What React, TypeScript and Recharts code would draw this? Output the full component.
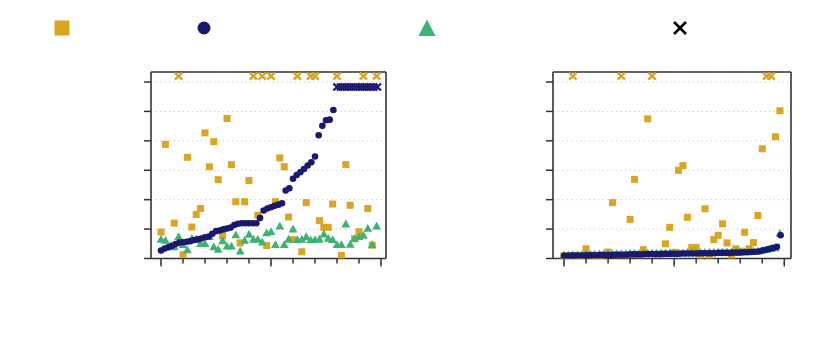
import { ScatterChart, Scatter, XAxis, YAxis, CartesianGrid, ReferenceLine } from "recharts"

const ORANGE = "#DAA520"
const BLUE = "#191970"
const GREEN = "#3CB371"
const AXIS = "#333"

const X_TICKS = [0, 10, 20, 30, 40, 50, 60, 70, 80, 90, 100]
const Y_TICKS = [0, 1, 2, 3, 4, 5, 6]
const Y_MAX = 6.34

// timeouts (null) are drawn as crosses at these levels
const ORANGE_TIMEOUT = 6.2
const BLUE_TIMEOUT = 5.83

// left panel
const leftOrange = [
  0.9, 3.88, 0.42, 1.2, null, 0.13, 3.44, 1.07, 1.5, 1.7,
  4.27, 3.12, 3.97, 2.68, 0.77, 4.76, 3.19, 1.93, 0.53, 1.93,
  2.65, null, 1.47, null, 0.44, null, 1.93, 3.42, 3.12, 1.41,
  0.64, null, 0.23, 1.9, null, null, 1.29, 1.06, 1.06, 1.85,
  null, 0.1, 3.19, 1.81, 0.67, 0.91, null, 1.7, 0.45, null,
]
const leftGreen = [
  0.64, 0.6, 0.38, 0.38, 0.73, 0.46, 0.28, 0.67, 0.64, 0.49,
  0.49, 0.73, 0.38, 0.3, 0.59, 0.41, 0.41, 0.79, 0.24, 0.6,
  0.81, 0.64, 0.64, 0.54, 0.86, 0.9, 0.46, 1.09, 0.46, 0.64,
  0.99, 0.63, 0.64, 0.73, 0.62, 0.63, 0.64, 0.82, 0.67, 0.63,
  0.46, 0.46, 1.16, 0.47, 0.66, 0.73, 0.77, 1.01, 0.46, 1.09,
]
const leftBlue = [
  0.27, 0.34, 0.38, 0.43, 0.49, 0.54, 0.55, 0.57, 0.59, 0.63,
  0.65, 0.68, 0.72, 0.75, 0.84, 0.93, 0.95, 0.99, 1.02, 1.05,
  1.14, 1.18, 1.2, 1.2, 1.2, 1.2, 1.2, 1.38, 1.63, 1.7,
  1.74, 1.79, 1.83, 1.88, 2.31, 2.39, 2.71, 2.84, 2.93, 3.04,
  3.16, 3.27, 3.47, 4.19, 4.51, 4.7, 4.72, 5.05, null, null,
  null, null, null, null, null, null, null, null, null, null,
]

// right panel
const rightOrange = [
  0.1, 0.1, null, 0.1, 0.1, 0.33, 0.12, 0.1, 0.1, 0.12,
  0.22, 1.9, 0.12, null, 0.12, 1.33, 2.69, 0.12, 0.3, 4.75,
  null, 0.13, 0.13, 0.5, 1.06, 0.21, 3.0, 3.16, 1.4, 0.37,
  0.37, 0.07, 1.69, 0.07, 0.64, 0.79, 1.18, 0.53, 0.07, 0.33,
  0.25, 0.89, 0.33, 0.54, 1.46, 3.73, null, null, 4.14, 5.02,
]
const rightGreen = [
  0.11, 0.11, 0.12, 0.12, 0.12, 0.13, 0.13, 0.13, 0.14, 0.14,
  0.14, 0.15, 0.15, 0.15, 0.15, 0.16, 0.16, 0.16, 0.16, 0.17,
  0.17, 0.17, 0.17, 0.18, 0.18, 0.18, 0.18, 0.18, 0.19, 0.19,
  0.19, 0.19, 0.19, 0.2, 0.2, 0.2, 0.2, 0.21, 0.21, 0.21,
  0.21, 0.22, 0.22, 0.23, 0.24, 0.26, 0.29, 0.32, 0.35, 0.84,
]
const rightBlue = [
  0.09, 0.09, 0.1, 0.1, 0.1, 0.1, 0.11, 0.11, 0.11, 0.11,
  0.12, 0.12, 0.12, 0.12, 0.13, 0.13, 0.13, 0.13, 0.14, 0.14,
  0.14, 0.14, 0.15, 0.15, 0.15, 0.15, 0.15, 0.16, 0.16, 0.16,
  0.16, 0.16, 0.17, 0.17, 0.17, 0.17, 0.17, 0.18, 0.18, 0.18,
  0.18, 0.18, 0.19, 0.19, 0.19, 0.19, 0.2, 0.2, 0.2, 0.21,
  0.21, 0.22, 0.23, 0.24, 0.27, 0.3, 0.33, 0.36, 0.4, 0.79,
]

type Val = number | null

// x = position of the instance as a percentage of its set
const solved = (vals: Val[]) =>
  vals.flatMap((v, i) => (v == null ? [] : [{ x: (i * 100) / vals.length, y: v }]))
const timeouts = (vals: Val[], level: number) =>
  vals.flatMap((v, i) => (v == null ? [{ x: (i * 100) / vals.length, y: level }] : []))

const Square = (p: any) =>
  p.cx == null ? null : <rect x={p.cx - 3.5} y={p.cy - 3.5} width={7} height={7} fill={ORANGE} />
const Dot = (p: any) => (p.cx == null ? null : <circle cx={p.cx} cy={p.cy} r={3.3} fill={BLUE} />)
const Tri = (p: any) =>
  p.cx == null ? null : (
    <polygon
      points={`${p.cx},${p.cy - 4.8} ${p.cx + 4.4},${p.cy + 3} ${p.cx - 4.4},${p.cy + 3}`}
      fill={GREEN}
    />
  )
const cross = (color: string) => (p: any) =>
  p.cx == null ? null : (
    <path
      d={`M${p.cx - 3.7},${p.cy - 3.5}L${p.cx + 3.7},${p.cy + 3.5}M${p.cx + 3.7},${p.cy - 3.5}L${p.cx - 3.7},${p.cy + 3.5}`}
      stroke={color}
      strokeWidth={2.4}
      fill="none"
    />
  )

// no tick labels; the 0 / 50 / 100 ticks are a bit longer
const XTick = (p: any) =>
  p.payload && p.payload.value % 50 === 0 ? (
    <line x1={p.x} x2={p.x} y1={p.y - 1} y2={p.y + 3} stroke={AXIS} strokeWidth={1.5} />
  ) : (
    <g />
  )
const NoTick = () => <g />

function Panel({
  width,
  left,
  right,
  xDomain,
  orange,
  green,
  blue,
}: {
  width: number
  left: number
  right: number
  xDomain: [number, number]
  orange: Val[]
  green: Val[]
  blue: Val[]
}) {
  const blueOut = timeouts(blue, BLUE_TIMEOUT)
  return (
    <ScatterChart width={width} height={360} margin={{ top: 72, right, bottom: 89.5, left: left - 10 }}>
      <CartesianGrid vertical={false} stroke="#d0d0d0" strokeDasharray="1.5 3" />
      <XAxis
        type="number"
        dataKey="x"
        domain={xDomain}
        ticks={X_TICKS}
        interval={0}
        allowDataOverflow
        height={12}
        tickSize={5}
        tickMargin={0}
        tick={<XTick />}
        tickLine={{ stroke: AXIS, strokeWidth: 1.5 }}
        axisLine={{ stroke: AXIS, strokeWidth: 1.6 }}
      />
      <YAxis
        type="number"
        dataKey="y"
        domain={[0, Y_MAX]}
        ticks={Y_TICKS}
        interval={0}
        allowDataOverflow
        width={10}
        tickSize={7}
        tickMargin={0}
        tick={<NoTick />}
        tickLine={{ stroke: AXIS, strokeWidth: 1.5 }}
        axisLine={{ stroke: AXIS, strokeWidth: 1.6 }}
      />
      <ReferenceLine y={Y_MAX} stroke={AXIS} strokeWidth={1.6} />
      <ReferenceLine x={xDomain[1]} stroke={AXIS} strokeWidth={1.6} />
      <Scatter data={solved(orange)} shape={Square} isAnimationActive={false} />
      <Scatter data={timeouts(orange, ORANGE_TIMEOUT)} shape={cross(ORANGE)} isAnimationActive={false} />
      <Scatter data={solved(green)} shape={Tri} isAnimationActive={false} />
      <Scatter data={solved(blue)} shape={Dot} isAnimationActive={false} />
      {blueOut.length > 0 && (
        <Scatter data={blueOut} shape={cross(BLUE)} isAnimationActive={false} />
      )}
    </ScatterChart>
  )
}

function Legend() {
  return (
    <svg width={831} height={56} style={{ position: "absolute", left: 0, top: 0 }}>
      <rect x={54.5} y={20.5} width={15} height={15} fill={ORANGE} />
      <circle cx={204} cy={28} r={6.5} fill={BLUE} />
      <polygon points="427,19.5 435.5,36 418.5,36" fill={GREEN} />
      <path d="M674,22L686,34M686,22L674,34" stroke="#000" strokeWidth={2.6} />
    </svg>
  )
}

export default function App() {
  return (
    <div style={{ position: "absolute", left: 0, top: 0, width: 831, height: 360, background: "#fff" }}>
      <div style={{ position: "absolute", left: 0, top: 0 }}>
        <Panel
          width={420}
          left={151}
          right={34}
          xDomain={[-4.55, 102.27]}
          orange={leftOrange}
          green={leftGreen}
          blue={leftBlue}
        />
      </div>
      <div style={{ position: "absolute", left: 420, top: 0 }}>
        <Panel
          width={411}
          left={133}
          right={40}
          xDomain={[-5, 103.05]}
          orange={rightOrange}
          green={rightGreen}
          blue={rightBlue}
        />
      </div>
      <Legend />
    </div>
  )
}
